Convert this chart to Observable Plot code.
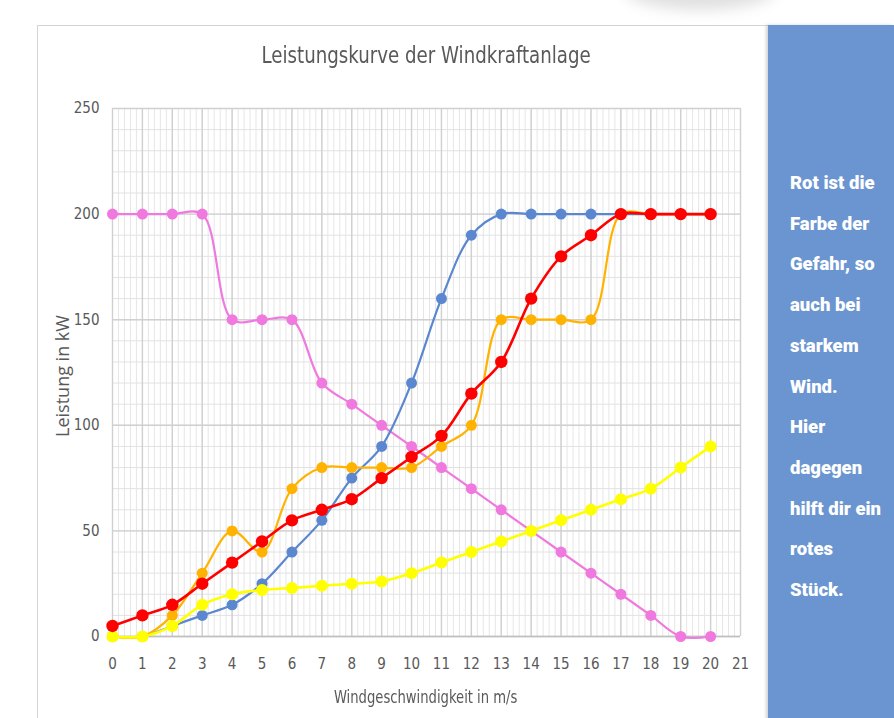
<!DOCTYPE html>
<html>
<head>
<meta charset="utf-8">
<script src="https://cdn.jsdelivr.net/npm/d3@7"></script>
<script src="https://cdn.jsdelivr.net/npm/@observablehq/plot@0.6"></script>
<style>
  html, body { margin: 0; padding: 0; background: #ffffff; }
  #page { position: relative; width: 894px; height: 718px; overflow: hidden; background: #fff; }
  #blob { position: absolute; left: 625px; top: -30px; width: 150px; height: 40px; border-radius: 50%;
          background: rgba(0,0,0,0.12); filter: blur(7px); }
  #frame { position: absolute; left: 37px; top: 25px; width: 731px; height: 700px;
           border-left: 1px solid #d4d4d4; border-top: 1px solid #d4d4d4; }
  #title { position: absolute; left: 0; top: 42px; width: 852px; text-align: center; }
  #title span { display: inline-block; transform: scaleX(0.88);
           font-family: "Liberation Sans Narrow", "DejaVu Sans Condensed", sans-serif;
           font-size: 23px; color: #595959; }
  #chart { position: absolute; left: 0; top: 90px; }
  #xlabel { position: absolute; left: 0; top: 687px; width: 852px; text-align: center; }
  #xlabel span { display: inline-block; transform: scaleX(0.86);
            font-family: "Liberation Sans Narrow", "DejaVu Sans Condensed", sans-serif;
            font-size: 17px; color: #595959; }
  #ylabel { position: absolute; left: 62px; top: 376px; transform: translate(-50%, -50%) rotate(-90deg);
            white-space: nowrap; font-family: "Open Sans", sans-serif; font-size: 18px; color: #595959; }
  #panel { position: absolute; left: 768px; top: 25px; width: 126px; height: 700px; background: #6a95d0;
           box-shadow: -2px 0 3px rgba(0,0,0,0.18); overflow: hidden; }
  #panel div { position: absolute; left: 22px; top: 138px; white-space: nowrap;
               font-family: Roboto, sans-serif; font-weight: 900; font-size: 18.5px; line-height: 40.7px; color: #ffffff; }
</style>
</head>
<body>
<div id="page">
  <div id="blob"></div>
  <div id="frame"></div>
  <div id="title"><span>Leistungskurve der Windkraftanlage</span></div>
  <div id="chart"></div>
  <div id="xlabel"><span>Windgeschwindigkeit in m/s</span></div>
  <div id="ylabel">Leistung in kW</div>
  <div id="panel"><div>Rot ist die<br>Farbe der<br>Gefahr, so<br>auch bei<br>starkem<br>Wind.<br>Hier<br>dagegen<br>hilft dir ein<br>rotes<br>Stück.</div></div>
</div>
<script>
const windSpeed = [0,1,2,3,4,5,6,7,8,9,10,11,12,13,14,15,16,17,18,19,20];
const blueSeries   = [0,0,5,10,15,25,40,55,75,90,120,160,190,200,200,200,200,200,200,200,200];
const pinkSeries   = [200,200,200,200,150,150,150,120,110,100,90,80,70,60,50,40,30,20,10,0,0];
const orangeSeries = [0,0,10,30,50,40,70,80,80,80,80,90,100,150,150,150,150,200,200,200,200];
const yellowSeries = [0,0,5,15,20,22,23,24,25,26,30,35,40,45,50,55,60,65,70,80,90];
const redSeries    = [5,10,15,25,35,45,55,60,65,75,85,95,115,130,160,180,190,200,200,200,200];
const xTicks = d3.range(0, 22, 1);
const yTicks = [0, 50, 100, 150, 200, 250];

const series = [
  {name: "pink",   values: pinkSeries,   color: "#ef79de", w: 2.2, r: 5.5},
  {name: "blue",   values: blueSeries,   color: "#5a87cf", w: 2.2, r: 5.5},
  {name: "orange", values: orangeSeries, color: "#ffb300", w: 2.2, r: 5.5},
  {name: "yellow", values: yellowSeries, color: "#ffff00", w: 2.6, r: 6},
  {name: "red",    values: redSeries,    color: "#ff0000", w: 2.6, r: 6.2}
];

const tickFont = "Liberation Sans Narrow, DejaVu Sans Condensed, sans-serif";
const marks = [
  Plot.gridX(d3.range(0, 21.001, 0.2), {stroke: "#e6e6e6", strokeOpacity: 1, strokeWidth: 1}),
  Plot.gridY(d3.range(0, 251, 10), {stroke: "#e2e2e2", strokeOpacity: 1, strokeWidth: 1}),
  Plot.gridX(xTicks, {stroke: "#d0d0d0", strokeOpacity: 1, strokeWidth: 1.4}),
  Plot.gridY(yTicks, {stroke: "#d0d0d0", strokeOpacity: 1, strokeWidth: 1.4}),
  Plot.ruleY([0], {stroke: "#bfbfbf", strokeWidth: 1.6}),
  Plot.axisX(xTicks, {tickSize: 0, tickPadding: 22, fontSize: 15, fill: "#595959", label: null, fontFamily: tickFont}),
  Plot.axisY(yTicks, {tickSize: 0, tickPadding: 13, fontSize: 15, fill: "#595959", label: null, fontFamily: tickFont})
];
for (const s of series) {
  const data = windSpeed.map((x, i) => ({x, y: s.values[i]}));
  marks.push(Plot.line(data, {x: "x", y: "y", stroke: s.color, strokeWidth: s.w, curve: "catmull-rom"}));
  marks.push(Plot.dot(data, {x: "x", y: "y", fill: s.color, r: s.r}));
}

const chart = Plot.plot({
  width: 770,
  height: 628,
  marginLeft: 112,
  marginRight: 30,
  marginTop: 18,
  marginBottom: 82,
  x: {domain: [0, 21], label: null},
  y: {domain: [0, 250], label: null},
  style: {background: "transparent", overflow: "visible"},
  marks
});
document.getElementById("chart").appendChild(chart);
</script>
</body>
</html>
